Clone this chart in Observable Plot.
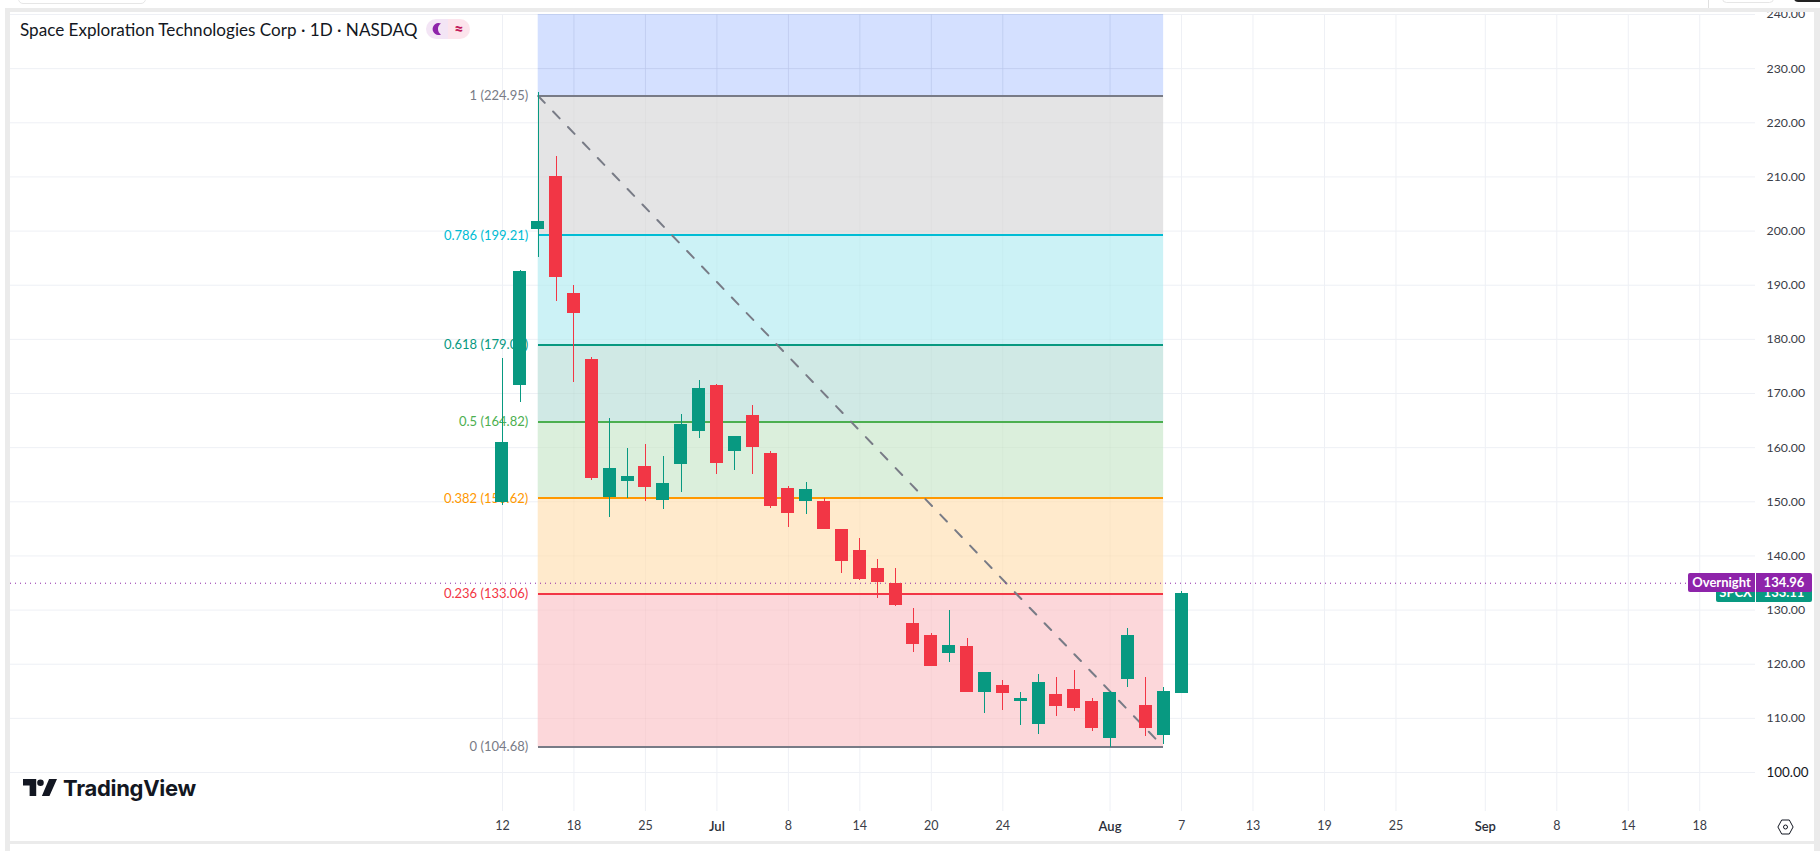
<!DOCTYPE html>
<html>
<head>
<meta charset="utf-8">
<script src="https://cdn.jsdelivr.net/npm/d3@7"></script>
<script src="https://cdn.jsdelivr.net/npm/@observablehq/plot@0.6"></script>
<style>
html,body{margin:0;padding:0;background:#fff;overflow:hidden}
#root{position:relative;width:1820px;height:851px;font-family:Lato,"Open Sans",sans-serif;color:#131722}
#root svg{display:block}
.ov{position:absolute}
.tag{position:absolute;height:19px;line-height:18px;color:#fff;font-size:13px;text-align:center;font-weight:700;overflow:hidden}
</style>
</head>
<body>
<div id="root"></div>
<script>
// candle values, one array per field, one entry per trading session
const opens  = [149.9,171.5,200.3,209.9,188.3,176.1,150.85,153.9,156.5,150.4,157.05,163.15,171.45,159.45,165.9,158.9,152.45,150.2,150.05,144.7,141.0,137.5,134.9,127.35,125.3,122.0,123.25,114.95,116.05,113.3,109.05,114.4,115.15,113.1,106.3,117.2,112.35,106.85,114.75];
const closes = [160.9,192.5,201.75,191.6,184.8,154.35,156.1,154.5,152.8,153.2,164.1,170.9,157.25,162.05,160.2,149.3,148.0,152.1,145.05,139.0,135.8,135.1,130.85,123.8,119.6,123.45,114.95,118.3,114.75,113.5,116.45,112.35,112.0,108.15,114.6,125.3,108.15,114.95,133.06];
const highs  = [176.45,192.8,225.6,213.76,189.9,176.6,165.4,159.8,160.6,158.35,166.1,172.4,171.65,162.05,167.8,159.3,152.8,153.55,150.6,144.9,143.2,139.35,137.7,130.3,125.65,129.9,124.75,118.45,117.0,114.75,118.1,117.55,118.85,113.65,114.95,126.6,117.55,115.7,133.4];
const lows   = [149.37,168.4,195.2,187.0,172.1,153.9,147.15,150.6,150.1,148.6,151.7,161.7,155.05,155.8,155.05,148.75,145.25,147.65,145.05,136.75,135.45,132.1,130.65,122.15,119.6,120.3,114.95,110.9,111.45,108.7,107.0,110.35,111.25,107.55,104.6,115.7,106.65,105.2,114.6];

// Fibonacci retracement levels
const fibRatios = ["1","0.786","0.618","0.5","0.382","0.236","0"];
const fibPrices = [224.95,199.21,179.0,164.82,150.62,133.06,104.68];
const fibColors = ["#787b86","#00bcd4","#089981","#4caf50","#ff9800","#f23645","#787b86"];
const fibFills  = ["#e4e4e5","#ccf2f6","#d0e9e5","#dbefdc","#ffeacc","#fcd7da"];
const fibLabels = ["1 (224.95)","0.786 (199.21)","0.618 (179.00)","0.5 (164.82)","0.382 (150.62)","0.236 (133.06)","0 (104.68)"];
const fibStart = 2, fibEnd = 37, topPrice = 240;

// axes
const priceTicks = d3.range(110, 241, 10);
const boldPriceTicks = [100];
const dayTicks  = [0,4,8,16,20,24,28,38,42,46,50,59,63,67];
const dayLabels = ["12","18","25","8","14","20","24","7","13","19","25","8","14","18"];
const monthTicks  = [12,34,55];
const monthLabels = ["Jul","Aug","Sep"];

const overnight = 134.96, lastPrice = 133.11;

const candles = opens.map((o,i)=>({i,o,c:closes[i],h:highs[i],l:lows[i],up:closes[i]>=o}));
const bands = fibFills.map((f,k)=>({top:fibPrices[k],bottom:fibPrices[k+1],f}));
const levels = fibPrices.map((p,k)=>({p,color:fibColors[k],label:fibLabels[k],ratio:fibRatios[k]}));
const half = 0.364;
const UP="#089981", DOWN="#f23645", PUR="#8e24aa";
const allX = dayTicks.concat(monthTicks);

const plot = Plot.plot({
  width:1820, height:851,
  marginLeft:10, marginRight:65, marginTop:14, marginBottom:40,
  style:{background:"transparent",fontFamily:"Lato, sans-serif"},
  x:{type:"linear",domain:[-27.53,70.12]},
  y:{type:"linear",domain:[92.8,240]},
  marks:[
    Plot.gridX(allX,{stroke:"#eef0f5",strokeOpacity:1,strokeWidth:1}),
    Plot.gridY(priceTicks.concat(boldPriceTicks),{stroke:"#eef0f5",strokeOpacity:1,strokeWidth:1}),
    // fib zones
    Plot.rect([{t:topPrice,b:fibPrices[0]}],{x1:fibStart,x2:fibEnd,y1:"b",y2:"t",fill:"#2962ff",fillOpacity:0.2}),
    Plot.rect(bands,{x1:fibStart,x2:fibEnd,y1:"bottom",y2:"top",fill:"f"}),
    Plot.gridX(allX.filter(t=>t>fibStart&&t<fibEnd),{stroke:"#000",strokeOpacity:0.025,y1:topPrice,y2:104.68}),
    Plot.gridY(priceTicks.filter(p=>p>fibPrices[6]),{x1:fibStart,x2:fibEnd,stroke:"#000",strokeOpacity:0.025}),
    Plot.ruleY(levels,{y:"p",x1:fibStart,x2:fibEnd,stroke:"color",strokeWidth:2,shapeRendering:"crispEdges"}),
    Plot.text(levels,{x:fibStart,y:"p",text:"label",fill:"color",textAnchor:"end",dx:-10,fontSize:13}),
    // trend line
    Plot.line([{x:fibStart,y:fibPrices[0]},{x:fibEnd,y:fibPrices[6]}],{x:"x",y:"y",stroke:"#787b86",strokeWidth:2,strokeDasharray:"9.5,12"}),
    // overnight line
    Plot.ruleY([overnight],{stroke:PUR,strokeWidth:1,strokeDasharray:"1,4"}),
    // candles
    Plot.ruleX(candles,{x:"i",y1:"l",y2:"h",stroke:d=>d.up?UP:DOWN,strokeWidth:1,shapeRendering:"crispEdges"}),
    Plot.rect(candles,{x1:d=>d.i-half,x2:d=>d.i+half,y1:"o",y2:"c",fill:d=>d.up?UP:DOWN,shapeRendering:"crispEdges",insetTop:-0.5,insetBottom:-0.5}),
    // axes
    Plot.axisY(priceTicks,{anchor:"right",tickSize:0,tickPadding:11,label:null,tickFormat:d=>d.toFixed(2),fontSize:12.3,fill:"#3a3d47"}),
    Plot.axisY(boldPriceTicks,{anchor:"right",tickSize:0,tickPadding:11,label:null,tickFormat:d=>d.toFixed(2),fontSize:13.4,fill:"#131722"}),
    Plot.axisX(dayTicks,{anchor:"bottom",tickSize:0,tickPadding:10,label:null,tickFormat:d=>dayLabels[dayTicks.indexOf(d)],fontSize:12.5,fill:"#3a3d47"}),
    Plot.axisX(monthTicks,{anchor:"bottom",tickSize:0,tickPadding:10,label:null,tickFormat:d=>monthLabels[monthTicks.indexOf(d)],fontSize:13,fontWeight:600,fill:"#2a2e39"})
  ]
});
const root=document.getElementById("root");
root.appendChild(plot);
const Y=plot.scale("y");
function box(css,html){const d=document.createElement("div");d.className="ov";d.style.cssText=css;if(html)d.innerHTML=html;root.appendChild(d);return d;}
// page frame
box("left:0;top:0;width:1820px;height:8px;background:#fff");
box("left:5px;top:8px;width:1815px;height:4px;background:#ebebeb");
box("left:5px;top:8px;width:5px;height:843px;background:#ebebeb");
box("left:1814px;top:8px;width:6px;height:843px;background:#ebebeb");
box("left:5px;top:841px;width:1815px;height:2.5px;background:#ebebeb");
box("left:10px;top:843.5px;width:1804px;height:8px;background:#fff");
box("left:18px;top:-6px;width:126px;height:8px;border:1px solid #e6e6e6;border-radius:6px");
box("left:1708px;top:0;width:1px;height:8px;background:#e0e0e0");
box("left:1722px;top:-6px;width:50px;height:7px;border:1px solid #e6e6e6;border-radius:6px");
box("left:1794px;top:-6px;width:30px;height:8px;background:#222;border-radius:5px");
// title and badge
box("left:20px;top:19px;font-size:17.1px;line-height:22px;white-space:nowrap;color:#131722","Space Exploration Technologies Corp · 1D · NASDAQ");
box("left:426px;top:19px;width:44px;height:20px;border-radius:10px;background:linear-gradient(90deg,#f3e5f5 50%,#fce4ec 50%);display:flex;align-items:center;line-height:20px;text-align:center",
 '<svg width="22" height="20" viewBox="0 0 22 20"><path d="M15 4.5a6 6 0 1 0 0 11 6.5 6.5 0 0 1 0-11z" fill="#8e24aa"/></svg><span style="width:22px;color:#c2185b;font-weight:900;font-size:16px;line-height:20px">≈</span>');
// price tags, placed by the y scale
function tag(left,w,price,bg,txt){const d=document.createElement("div");d.className="tag";d.style.cssText=`left:${left}px;width:${w}px;top:${Y.apply(price)-9.5}px;background:${bg}`;d.textContent=txt;root.appendChild(d);return d;}
const a=tag(1716,39,lastPrice,UP,"SPCX");a.style.borderRadius="2px 0 0 2px";
const b=tag(1756,56,lastPrice,UP,lastPrice.toFixed(2));b.style.borderRadius="0 2px 2px 0";
const c=tag(1688,67,overnight,PUR,"Overnight");c.style.borderRadius="2px 0 0 2px";
const e=tag(1756,56,overnight,PUR,overnight.toFixed(2));e.style.borderRadius="0 2px 2px 0";
// logo and settings icon
box("left:23px;top:779px;width:34px;height:17px",
 '<svg width="34" height="17" viewBox="0 0 36 18"><path d="M14 18H7V7H0V0h14zM28 18h-8L27.6 0H36zM22 4a3.5 3.5 0 1 1-7 0 3.5 3.5 0 0 1 7 0z" fill="#131722"/></svg>');
box("left:63px;top:775px;font-size:22px;line-height:26px;font-weight:700;color:#131722;font-family:Inter,Lato,sans-serif;letter-spacing:-0.3px","TradingView");
box("left:1777px;top:819px;width:17px;height:16px",
 '<svg width="17" height="16" viewBox="0 0 17 16"><path d="M4.7 1h7.6l3.8 7-3.8 7H4.7L.9 8z" fill="none" stroke="#131722"/><circle cx="8.5" cy="8" r="2" fill="none" stroke="#131722"/></svg>');
</script>
</body>
</html>
